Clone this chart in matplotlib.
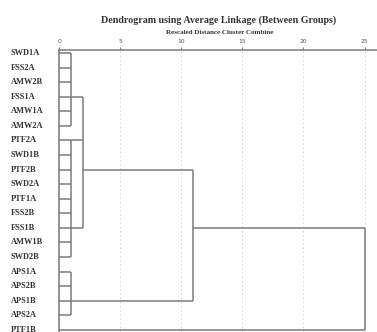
import matplotlib
matplotlib.use('Agg')
import matplotlib.pyplot as plt
import matplotlib.transforms as mtrans

labels = ['SWD1A', 'FSS2A', 'AMW2B', 'FSS1A', 'AMW1A', 'AMW2A', 'PTF2A', 'SWD1B',
          'PTF2B', 'SWD2A', 'PTF1A', 'FSS2B', 'FSS1B', 'AMW1B', 'SWD2B',
          'APS1A', 'APS2B', 'APS1B', 'APS2A', 'PTF1B']

# rescaled distance at which each case first joins a cluster
leaf_join = [1] * 19 + [25]

# clusters: name -> (distance, first row, last row, row of its output line, parent)
clusters = {
    'A': (1, 0, 5, 3, 'D'),
    'B': (1, 6, 7, 6, 'D'),
    'C': (1, 7, 14, 12, 'D'),
    'D': (2, 3, 12, 8, 'F'),
    'E': (1, 15, 18, 17, 'F'),
    'F': (11, 8, 17, 12, 'G'),
    'G': (25, 12, 19, None, None),
}

ticks = [0, 5, 10, 15, 20, 25]
lc = '#7a7a7a'

fig = plt.figure(figsize=(3.77, 3.32), dpi=100)
ax = fig.add_axes([59/377, 0, 1 - 59/377, 1 - 50/332])

# leaf lines
for i, d in enumerate(leaf_join):
    ax.plot([0, d], [i, i], color=lc, lw=1.1, solid_capstyle='butt')

# cluster joins
for name, (d, r0, r1, out, parent) in clusters.items():
    ax.plot([d, d], [r0, r1], color=lc, lw=1.1, solid_capstyle='butt')
    if parent is not None:
        ax.plot([d, clusters[parent][0]], [out, out], color=lc, lw=1.1,
                solid_capstyle='butt')

ax.set_xlim(0, 26.02)
ax.set_ylim(19.14, -0.206)
ax.xaxis.tick_top()
ax.set_xticks(ticks)
ax.tick_params(axis='x', length=2.5, width=0.8, color=lc, labelsize=4.3,
               pad=1.5, labelcolor='#555555')
ax.set_yticks([])
ax.grid(axis='x', linestyle=(0, (2, 3)), color='#cfcfcf', lw=0.6)
for s in ['right', 'bottom']:
    ax.spines[s].set_visible(False)
for s in ['top', 'left']:
    ax.spines[s].set_color(lc)
    ax.spines[s].set_linewidth(1.1)

tr = mtrans.blended_transform_factory(fig.transFigure, ax.transData)
for i, lab in enumerate(labels):
    ax.text(11/377, i, lab, transform=tr, ha='left', va='center',
            fontsize=6, fontweight='bold', family='Liberation Serif',
            color='#333333')

fig.text(219/377, 1 - 20/332, 'Dendrogram using Average Linkage (Between Groups)',
         ha='center', va='center', fontsize=7.2, fontweight='bold',
         family='Liberation Serif', color='#333333')
fig.text(219.5/377, 1 - 32/332, 'Rescaled Distance Cluster Combine',
         ha='center', va='center', fontsize=5.0, fontweight='bold',
         family='Liberation Serif', color='#333333')

fig.savefig('out.png', dpi=100)
